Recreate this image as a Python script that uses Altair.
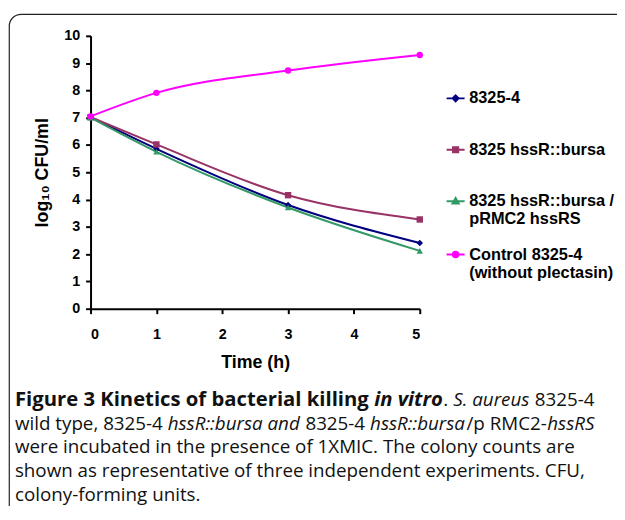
import altair as alt
import pandas as pd

# ---------------- data ----------------
times = [0, 1, 3, 5]
series = [
    "8325-4",
    "8325 hssR::bursa",
    "8325 hssR::bursa /\npRMC2 hssRS",
    "Control 8325-4\n(without plectasin)",
]
wt = [7.02, 5.86, 3.80, 2.41]
bursa = [7.02, 6.02, 4.16, 3.27]
comp = [7.00, 5.75, 3.71, 2.12]
ctrl = [7.05, 7.91, 8.73, 9.30]
values = [wt, bursa, comp, ctrl]

colors = ["#000080", "#993366", "#339966", "#FF00FF"]
shapes = ["diamond", "square", "triangle-up", "circle"]

x_ticks = [0, 1, 2, 3, 4, 5]
y_ticks = [0, 1, 2, 3, 4, 5, 6, 7, 8, 9, 10]

y_title = "log\u2081\u2080 CFU/ml"
x_title = "Time (h)"

# caption text pieces per line, with their styles
caption_text = [
    ["Figure 3 Kinetics of bacterial killing", "in vitro", ".", "S. aureus", "8325-4"],
    ["wild type, 8325-4", "hssR::bursa and", "8325-4", "hssR::bursa", "/p RMC2-", "hssRS"],
    ["were incubated in the presence of 1XMIC. The colony counts are"],
    ["shown as representative of three independent experiments. CFU,"],
    ["colony-forming units."],
]
caption_style = [
    ["bold", "bolditalic", "normal", "italic", "normal"],
    ["normal", "italic", "normal", "italic", "normal", "italic"],
    ["normal"], ["normal"], ["normal"],
]
# whether a space precedes each piece
caption_space = [
    [0, 1, 0, 1, 1],
    [0, 1, 1, 1, 0, 0],
    [0], [0], [0],
]

# ---------------- layout (pixels) ----------------
PW, PH = 333, 276
OX, OY = 91.5, 33.3  # plot origin on page
CAP_X0 = 15
CAP_Y0, CAP_LH = 401.5, 24
FS = {"normal": 19, "italic": 19, "bold": 20.5, "bolditalic": 20.5}

# approximate Open Sans advance widths (em) for flowing caption pieces
_w = {" ": .26, "a": .556, "b": .613, "c": .476, "d": .613, "e": .561, "f": .339,
      "g": .548, "h": .614, "i": .253, "j": .253, "k": .525, "l": .253, "m": .930,
      "n": .614, "o": .604, "p": .613, "q": .613, "r": .408, "s": .477, "t": .353,
      "u": .614, "v": .501, "w": .778, "x": .524, "y": .502, "z": .477, ",": .245,
      "-": .322, ".": .266, "/": .367, ":": .266, "C": .631, "F": .516, "H": .738,
      "I": .279, "K": .614, "M": .903, "R": .633, "S": .547, "T": .551, "U": .738,
      "X": .590}
_mult = {"normal": 1.0, "italic": 0.95, "bold": 1.09, "bolditalic": 1.05}


def text_w(s, st):
    return sum(_w.get(ch, .572) for ch in s) * _mult[st] * FS[st]


rows = []
for s, vals in zip(series, values):
    for t, v in zip(times, vals):
        rows.append({"time": t, "cfu": v, "series": s})
df = pd.DataFrame(rows)

xs = alt.Scale(domain=[0, 5], nice=False)
ys = alt.Scale(domain=[0, 10], nice=False)
cs = alt.Scale(domain=series, range=colors)

axis_common = dict(
    domainColor="black", domainWidth=2, tickColor="black", tickWidth=2, tickSize=5,
    labelFont="Liberation Sans", labelFontWeight="bold", labelFontSize=14.5,
    labelColor="black", grid=False, titleFont="Liberation Sans",
    titleFontWeight="bold", titleFontSize=18, titleColor="black",
)

X = alt.X("time:Q", scale=xs, axis=alt.Axis(values=x_ticks, title=x_title, labelPadding=14,
                                             titlePadding=13, **axis_common))
Y = alt.Y("cfu:Q", scale=ys, axis=alt.Axis(values=y_ticks, title=y_title, labelPadding=6,
                                            titlePadding=12, **axis_common))

lines = alt.Chart(df).mark_line(interpolate="monotone", strokeWidth=2).encode(
    x=X, y=Y, color=alt.Color("series:N", scale=cs, legend=None),
    detail="series:N",
)
points = alt.Chart(df).mark_point(filled=True, size=42, opacity=1).encode(
    x=X, y=Y,
    color=alt.Color("series:N", scale=cs, legend=None),
    shape=alt.Shape("series:N", scale=alt.Scale(domain=series, range=shapes), legend=None),
)

# legend symbols: line + marker (units of sqrt(size)/2 = 3.5 px)
tall = "M0,-6.1M0,6.1"
leg_paths = [
    tall + "M-2.6,0H2.6M0,-0.85L0.85,0L0,0.85L-0.85,0Z",
    tall + "M-2.6,0H2.6M-0.75,-0.75H0.75V0.75H-0.75Z",
    tall + "M-2.6,0H2.6M0,-0.95L0.9,0.65H-0.9Z",
    tall + "M-2.6,0H2.6M0.8,0A0.8,0.8,0,1,1,-0.8,0A0.8,0.8,0,1,1,0.8,0Z",
]
leg = alt.Legend(
    title=None, orient="none", legendX=361, legendY=55, direction="vertical",
    labelFont="Liberation Sans", labelFontWeight="bold", labelFontSize=16.5,
    labelColor="black", labelLimit=0, labelOffset=5.5, rowPadding=0,
    symbolSize=49, symbolStrokeWidth=2, symbolOpacity=1,
    symbolFillColor="black", symbolStrokeColor="black",
    labelExpr="split(datum.label, '\\n')",
)
legend_layer = alt.Chart(df).mark_point(opacity=0, size=49).encode(
    x=X, y=Y,
    shape=alt.Shape("series:N", scale=alt.Scale(domain=series, range=leg_paths), legend=leg),
    fill=alt.Fill("series:N", scale=alt.Scale(domain=series, range=colors), legend=leg),
    stroke=alt.Stroke("series:N", scale=alt.Scale(domain=series, range=colors), legend=leg),
)

# frame
frame = alt.Chart(pd.DataFrame({"a": [0]})).mark_rect(
    fillOpacity=0, stroke="#222", strokeWidth=1.2, cornerRadius=12
).encode(
    x=alt.value(9.3 - OX), x2=alt.value(700), y=alt.value(11.5 - OY), y2=alt.value(700)
)

styles = {
    "normal": dict(fontWeight="normal", fontStyle="normal"),
    "bold": dict(fontWeight="bold", fontStyle="normal"),
    "italic": dict(fontWeight="normal", fontStyle="italic"),
    "bolditalic": dict(fontWeight="bold", fontStyle="italic"),
}
cap_layers = []
for li, (texts, sts, sps) in enumerate(zip(caption_text, caption_style, caption_space)):
    yv = CAP_Y0 + li * CAP_LH
    xcur = CAP_X0
    for txt, st, sp in zip(texts, sts, sps):
        if sp:
            xcur += text_w(" ", "normal")
        cap_layers.append(
            alt.Chart(pd.DataFrame({"t": [txt]})).mark_text(
                align="left", baseline="middle", font="Open Sans", fontSize=FS[st],
                color="#111", **styles[st]
            ).encode(x=alt.value(xcur - OX), y=alt.value(yv - OY), text="t:N")
        )
        xcur += text_w(txt, st)

SVG_W, SVG_H = 616, 498
chart = alt.layer(frame, lines, points, legend_layer, *cap_layers).resolve_scale(
    shape="independent", fill="independent", stroke="independent"
).properties(
    width=PW, height=PH,
    autosize=alt.AutoSizeParams(type="none"),
    padding={"left": OX - 8, "top": OY - 8,
             "right": SVG_W - (OX - 8) - PW, "bottom": SVG_H - (OY - 8) - PH},
).configure_view(strokeWidth=0)

chart.save("out.html", embed_options={"renderer": "svg", "actions": False})
